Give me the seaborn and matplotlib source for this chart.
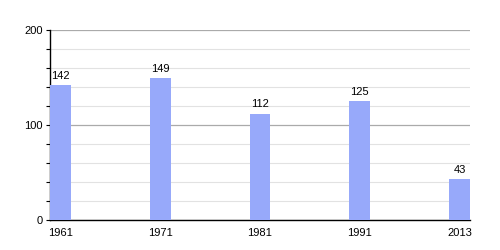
import matplotlib
matplotlib.use("Agg")
import matplotlib.pyplot as plt
import seaborn as sns
import pandas as pd
from matplotlib.ticker import MultipleLocator

years = ["1961", "1971", "1981", "1991", "2013"]
population = [142, 149, 112, 125, 43]

sns.set_style("white")
plt.rcParams["font.family"] = ["Liberation Sans", "DejaVu Sans"]
plt.rcParams["text.color"] = "black"
plt.rcParams["xtick.color"] = "black"
plt.rcParams["ytick.color"] = "black"

df = pd.DataFrame({"year": years, "pop": population})

fig = plt.figure(figsize=(5, 2.5), dpi=100)
ax = fig.add_axes([0.1, 0.12, 0.84, 0.76])

sns.barplot(data=df, x="year", y="pop", color="#97a9fa", saturation=1,
            width=0.21, ax=ax, zorder=3, linewidth=0)

ax.set_ylim(0, 200)
ax.set_xlim(-0.105, 4.105)
ax.yaxis.set_major_locator(MultipleLocator(100))
ax.yaxis.set_minor_locator(MultipleLocator(20))
ax.grid(which="minor", axis="y", color="#e2e2e2", lw=0.8, zorder=0)
ax.grid(which="major", axis="y", color="#aaaaaa", lw=0.9, zorder=1)
ax.set_axisbelow(True)

for s in ["top", "right"]:
    ax.spines[s].set_visible(False)
ax.spines["left"].set_color("black")
ax.spines["bottom"].set_color("black")
ax.spines["left"].set_linewidth(1)
ax.spines["bottom"].set_linewidth(1)

ax.tick_params(axis="y", which="both", left=True, length=3, width=0.8,
               color="black", labelsize=8, pad=2, labelcolor="black")
ax.tick_params(axis="x", bottom=False, labelsize=8, pad=2, labelcolor="black")
ax.set_xlabel("")
ax.set_ylabel("")

for container in ax.containers:
    ax.bar_label(container, labels=[str(v) for v in population],
                 fontsize=8, padding=3, color="black")

fig.savefig("out.png", dpi=100)
